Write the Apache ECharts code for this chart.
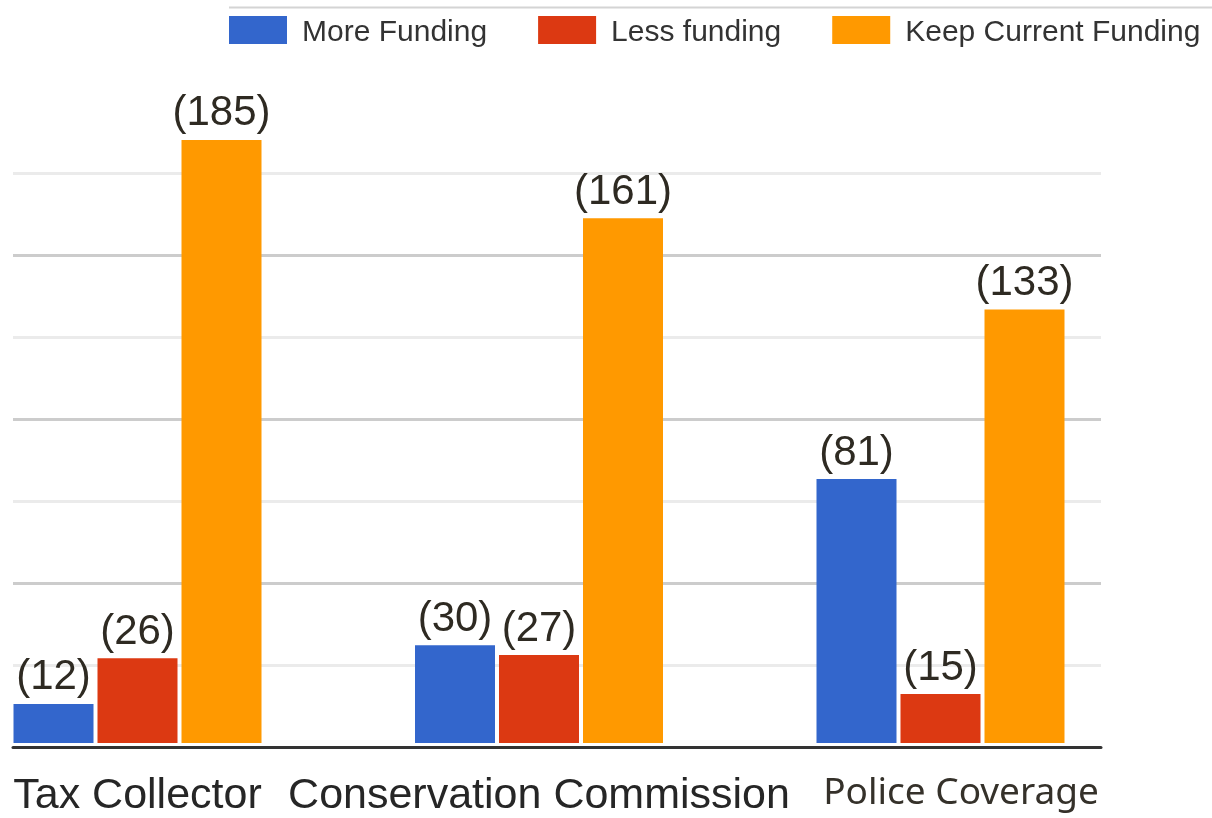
<!DOCTYPE html>
<html>
<head>
<meta charset="utf-8">
<script src="https://cdn.jsdelivr.net/npm/echarts@6/dist/echarts.min.js"></script>
<style>
  html, body { margin: 0; padding: 0; background: #ffffff; }
  #chart { width: 1212px; height: 818px; }
</style>
</head>
<body>
<div id="chart"></div>
<script>
// Survey results: preferred funding level per town department
const categories = ['Tax Collector', 'Conservation Commission', 'Police Coverage'];
const seriesNames = ['More Funding', 'Less funding', 'Keep Current Funding'];
const moreFunding = [12, 30, 81];
const lessFunding = [26, 27, 15];
const keepFunding = [185, 161, 133];
const seriesColors = ['#3366cc', '#dc3912', '#ff9900'];

const chart = echarts.init(document.getElementById('chart'));

const labelStyle = {
  show: true,
  position: 'top',
  distance: 5,
  formatter: p => '(' + p.value + ')',
  fontFamily: 'Liberation Sans, Arial, sans-serif',
  fontSize: 42,
  color: '#2e2a22'
};

function barSeries(name, data, color) {
  return {
    name: name,
    type: 'bar',
    xAxisIndex: 1,
    yAxisIndex: 1,
    data: data,
    barWidth: 80,
    barGap: '5%',
    itemStyle: { color: color },
    label: labelStyle,
    emphasis: { disabled: true }
  };
}

const option = {
  animation: false,
  backgroundColor: '#ffffff',
  textStyle: { fontFamily: 'Liberation Sans, Arial, sans-serif' },
  legend: {
    left: 229,
    top: 16,
    padding: 0,
    itemWidth: 58,
    itemHeight: 28,
    itemGap: 51,
    icon: 'rect',
    data: seriesNames,
    formatter: '{t|{name}}',
    textStyle: {
      fontFamily: 'Liberation Sans, Arial, sans-serif',
      fontSize: 30,
      color: '#333333',
      rich: {
        t: {
          fontFamily: 'Liberation Sans, Arial, sans-serif',
          fontSize: 30,
          color: '#333333',
          padding: [6, 0, 0, 10]
        }
      }
    }
  },
  graphic: [{
    type: 'line',
    shape: { x1: 229, y1: 7.5, x2: 1212, y2: 7.5 },
    style: { stroke: '#d4d4d4', lineWidth: 2 },
    silent: true
  }],
  grid: [
    // gridlines and baseline
    { left: 13, right: 111, top: 91, bottom: 70.5 },
    // bar groups: one tick per department, bars centred on the ticks
    { left: 137.5, right: 271.5, top: 91, bottom: 70.5 }
  ],
  xAxis: [
    {
      type: 'category',
      gridIndex: 0,
      data: categories,
      axisLine: { show: true, lineStyle: { color: '#333333', width: 3 } },
      axisTick: { show: false },
      axisLabel: { show: false },
      splitLine: { show: false },
      z: 5
    },
    {
      type: 'category',
      gridIndex: 1,
      data: categories,
      boundaryGap: false,
      axisLine: { show: false },
      axisTick: { show: false },
      splitLine: { show: false },
      axisLabel: {
        interval: 0,
        hideOverlap: false,
        margin: 32,
        fontSize: 43,
        color: '#262626',
        fontFamily: 'Liberation Sans, Arial, sans-serif',
        formatter: function (v) {
          return v === 'Police Coverage' ? '{p|' + v + '}' : v;
        },
        rich: {
          p: {
            fontFamily: 'Noto Sans, sans-serif',
            fontSize: 37,
            color: '#35312a',
            padding: [0, 0, 0, 41]
          }
        }
      }
    }
  ],
  yAxis: [
    {
      type: 'value',
      gridIndex: 0,
      min: 0,
      max: 200,
      interval: 50,
      axisLine: { show: false },
      axisTick: { show: false },
      axisLabel: { show: false },
      splitLine: {
        show: true,
        showMinLine: false,
        showMaxLine: false,
        lineStyle: { color: '#cccccc', width: 3 }
      },
      minorTick: { show: false, splitNumber: 2 },
      minorSplitLine: { show: true, lineStyle: { color: '#ebebeb', width: 3 } }
    },
    {
      type: 'value',
      gridIndex: 1,
      min: 0,
      max: 200,
      interval: 50,
      axisLine: { show: false },
      axisTick: { show: false },
      axisLabel: { show: false },
      splitLine: { show: false }
    }
  ],
  series: [
    barSeries(seriesNames[0], moreFunding, seriesColors[0]),
    barSeries(seriesNames[1], lessFunding, seriesColors[1]),
    barSeries(seriesNames[2], keepFunding, seriesColors[2])
  ]
};

chart.setOption(option);
</script>
</body>
</html>
